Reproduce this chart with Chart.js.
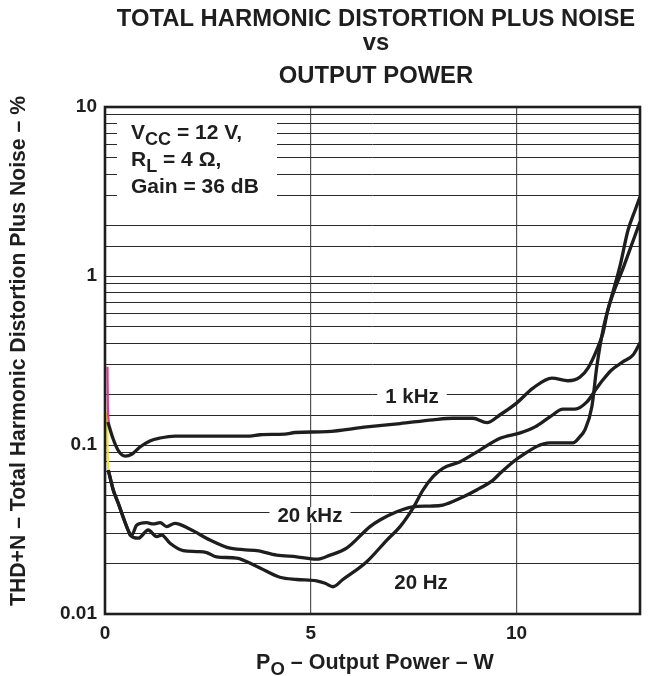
<!DOCTYPE html>
<html>
<head>
<meta charset="utf-8">
<script src="https://cdn.jsdelivr.net/npm/chart.js@4.4.1/dist/chart.umd.min.js"></script>
<style>
  html, body { margin: 0; padding: 0; background: #fff; }
  #wrap { width: 655px; height: 676px; }
</style>
</head>
<body>
<div id="wrap"><canvas id="thdChart" width="655" height="676"></canvas></div>
<script>
// values (output power in W, THD+N in %)
var power1k = [0.07, 0.19, 0.32, 0.49, 0.66, 0.85, 1.09, 1.34, 1.70, 3.52, 3.77, 4.37, 4.62, 5.39, 6.36, 7.17, 7.97, 8.46, 8.94, 9.28, 9.60, 10.0, 10.40, 10.86, 11.25, 11.54, 11.74, 11.95, 12.10, 12.22, 12.61, 13.0];
var thd1k = [0.137, 0.110, 0.093, 0.086, 0.0885, 0.0973, 0.1057, 0.110, 0.113, 0.113, 0.115, 0.116, 0.1186, 0.120, 0.128, 0.134, 0.141, 0.144, 0.144, 0.1355, 0.151, 0.177, 0.217, 0.249, 0.240, 0.252, 0.286, 0.365, 0.460, 0.630, 1.148, 2.09];

var power20k = [0.08, 0.20, 0.32, 0.44, 0.56, 0.65, 0.77, 1.01, 1.17, 1.34, 1.50, 1.70, 2.07, 2.55, 3.04, 3.69, 4.17, 4.66, 5.14, 5.47, 5.87, 6.44, 6.68, 7.09, 7.48, 7.90, 8.21, 8.63, 9.03, 9.43, 9.60, 10.09, 10.81, 11.37, 11.54, 11.66, 11.83, 11.95, 12.10, 12.22, 12.51, 12.71, 12.88, 13.0];
var thd20k = [0.0711, 0.0542, 0.0454, 0.0375, 0.0314, 0.0293, 0.0336, 0.0347, 0.0341, 0.0347, 0.0329, 0.0344, 0.0317, 0.0274, 0.0245, 0.0237, 0.0223, 0.0218, 0.0211, 0.0223, 0.0245, 0.0329, 0.0360, 0.0403, 0.0431, 0.0435, 0.0441, 0.0484, 0.0542, 0.062, 0.068, 0.0853, 0.103, 0.103, 0.112, 0.1228, 0.1686, 0.290, 0.479, 0.630, 1.135, 1.87, 2.45, 2.94];

var power20 = [0.08, 0.20, 0.32, 0.44, 0.56, 0.61, 0.81, 1.05, 1.26, 1.38, 1.58, 1.90, 2.23, 2.47, 2.71, 3.20, 3.69, 4.25, 4.66, 5.14, 5.35, 5.54, 5.78, 6.36, 6.85, 7.17, 7.48, 7.73, 7.97, 8.21, 8.63, 9.11, 9.60, 10.09, 10.45, 10.81, 11.13, 11.42, 11.71, 11.95, 12.10, 12.31, 12.59, 12.83, 13.0];
var thd20 = [0.0711, 0.0542, 0.0454, 0.0375, 0.0314, 0.0293, 0.0281, 0.0314, 0.0287, 0.0293, 0.0262, 0.0237, 0.0234, 0.0231, 0.0218, 0.0214, 0.0191, 0.0165, 0.0160, 0.0157, 0.0152, 0.0145, 0.0160, 0.0204, 0.0274, 0.0329, 0.0422, 0.0542, 0.0649, 0.0728, 0.0796, 0.0933, 0.1096, 0.118, 0.128, 0.1466, 0.163, 0.163, 0.180, 0.217, 0.243, 0.278, 0.311, 0.341, 0.402];

// the little coloured traces at the very start of the sweep
var powerPink = [0.06, 0.07, 0.09];
var thdPink = [0.29, 0.17, 0.137];
var powerYellow = [0.05, 0.06, 0.08];
var thdYellow = [0.155, 0.10, 0.0711];

var xTicks = [0, 5, 10];
var yTickValues = [0.01, 0.1, 1, 10];
var yTickLabels = ['0.01', '0.1', '1', '10'];

// curve names and where they sit (in data units)
var curveLabels = ['1 kHz', '20 kHz', '20 Hz'];
var curveLabelX = [7.46, 4.98, 7.68];
var curveLabelY = [0.195, 0.0385, 0.0153];

var INK = '#1e1e1e';
var FONT = '"Liberation Sans", Arial, Helvetica, sans-serif';

function pts(xs, ys) {
    return xs.map(function(x, i) { return { x: x, y: ys[i] }; });
}

function curve(label, xs, ys, color, width) {
    return {
        label: label,
        data: pts(xs, ys),
        borderColor: color,
        borderWidth: width,
        pointRadius: 0,
        fill: false,
        cubicInterpolationMode: 'monotone'
    };
}

// draws text made of parts, some of them subscripts
function richWidth(ctx, parts, size) {
    var w = 0;
    parts.forEach(function(p) {
        ctx.font = 'bold ' + (p.sub ? size * 0.86 : size) + 'px ' + FONT;
        w += ctx.measureText(p.t).width;
    });
    return w;
}

function drawRich(ctx, parts, x, y, size, align) {
    var w = richWidth(ctx, parts, size);
    var cx = align === 'center' ? x - w / 2 : x;
    ctx.textAlign = 'left';
    ctx.textBaseline = 'alphabetic';
    parts.forEach(function(p) {
        ctx.font = 'bold ' + (p.sub ? size * 0.86 : size) + 'px ' + FONT;
        ctx.fillText(p.t, cx, p.sub ? y + size * 0.27 : y);
        cx += ctx.measureText(p.t).width;
    });
}

var decorPlugin = {
    id: 'decor',
    afterDatasetsDraw: function(chart) {
        var ctx = chart.ctx;
        var a = chart.chartArea;
        var xs = chart.scales.x, ys = chart.scales.y;
        ctx.save();

        // frame
        ctx.strokeStyle = INK;
        ctx.lineWidth = 2.6;
        ctx.strokeRect(a.left, a.top, a.right - a.left, a.bottom - a.top);

        // curve labels with white gaps in the grid
        ctx.font = 'bold 20.5px ' + FONT;
        ctx.textAlign = 'center';
        ctx.textBaseline = 'middle';
        curveLabels.forEach(function(t, i) {
            var px = xs.getPixelForValue(curveLabelX[i]);
            var py = ys.getPixelForValue(curveLabelY[i]);
            var w = ctx.measureText(t).width;
            if (i < 2) {
                ctx.fillStyle = '#fff';
                ctx.fillRect(px - w / 2 - 8, py - 8, w + 16, 16);
            }
            ctx.fillStyle = INK;
            ctx.fillText(t, px, py + 1);
        });

        // conditions box
        ctx.fillStyle = '#fff';
        ctx.fillRect(a.left + 12, a.top + 12, 160, 82);
        ctx.fillStyle = INK;
        drawRich(ctx, [{ t: 'V' }, { t: 'CC', sub: true }, { t: ' = 12 V,' }], a.left + 26, a.top + 32, 21);
        drawRich(ctx, [{ t: 'R' }, { t: 'L', sub: true }, { t: ' = 4 Ω,' }], a.left + 26, a.top + 59, 21);
        drawRich(ctx, [{ t: 'Gain = 36 dB' }], a.left + 26, a.top + 86, 21);

        // titles
        drawRich(ctx, [{ t: 'TOTAL HARMONIC DISTORTION PLUS NOISE' }], 376, 26, 23.8, 'center');
        drawRich(ctx, [{ t: 'vs' }], 376, 50, 23.8, 'center');
        drawRich(ctx, [{ t: 'OUTPUT POWER' }], 376, 83, 23.8, 'center');

        // axis titles
        drawRich(ctx, [{ t: 'P' }, { t: 'O', sub: true }, { t: ' – Output Power – W' }], 375, 669, 21.5, 'center');
        ctx.translate(25, 351);
        ctx.rotate(-Math.PI / 2);
        drawRich(ctx, [{ t: 'THD+N – Total Harmonic Distortion Plus Noise – %' }], 0, 0, 21.2, 'center');

        ctx.restore();
    }
};

var ctx = document.getElementById('thdChart').getContext('2d');
var chart = new Chart(ctx, {
    type: 'line',
    data: {
        datasets: [
            curve('1 kHz', power1k, thd1k, INK, 3.3),
            curve('20 kHz', power20k, thd20k, INK, 3.3),
            curve('20 Hz', power20, thd20, INK, 3.3),
            curve('start A', powerPink, thdPink, '#e8348c', 2.2),
            curve('start B', powerYellow, thdYellow, '#f2e235', 2.2)
        ]
    },
    options: {
        responsive: false,
        animation: false,
        layout: { padding: { top: 107, right: 15, bottom: 0, left: 0 } },
        plugins: {
            legend: { display: false },
            tooltip: { enabled: false }
        },
        scales: {
            x: {
                type: 'linear',
                min: 0,
                max: 13,
                afterBuildTicks: function(s) {
                    s.ticks = xTicks.map(function(v) { return { value: v }; });
                },
                afterFit: function(s) { s.height = 62; },
                border: { display: false },
                grid: { color: '#555', lineWidth: 1.2, drawTicks: false },
                ticks: {
                    padding: 8,
                    color: INK,
                    font: { family: FONT, size: 19, weight: 'bold' },
                    maxRotation: 0
                }
            },
            y: {
                type: 'logarithmic',
                min: 0.01,
                max: 10,
                afterFit: function(s) { s.width = 105; },
                border: { display: false },
                grid: { color: '#2a2a2a', lineWidth: 1, drawTicks: false },
                ticks: {
                    padding: 8,
                    autoSkip: false,
                    color: INK,
                    font: { family: FONT, size: 19, weight: 'bold' },
                    callback: function(v) {
                        for (var i = 0; i < yTickValues.length; i++) {
                            if (Math.abs(v - yTickValues[i]) < yTickValues[i] * 1e-6) return yTickLabels[i];
                        }
                        return '';
                    }
                }
            }
        }
    },
    plugins: [decorPlugin]
});
</script>
</body>
</html>
